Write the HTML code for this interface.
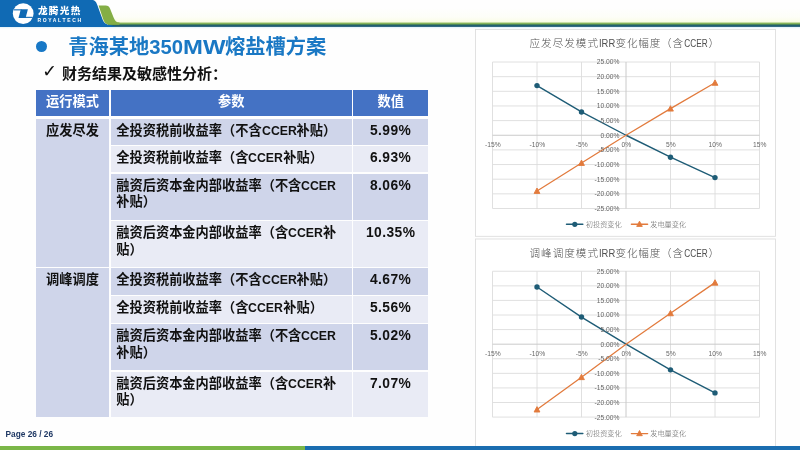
<!DOCTYPE html>
<html lang="zh-CN">
<head>
<meta charset="utf-8">
<title>青海某地350MW熔盐槽方案</title>
<style>
html,body{margin:0;padding:0;}
html{background:#fefefe;}
body{width:800px;height:450px;overflow:hidden;background:#fefefe;position:relative;filter:blur(0.45px);
  font-family:"Liberation Sans","Noto Sans CJK SC",sans-serif;}
.abs{position:absolute;}
#hdr{left:0;top:0;width:800px;height:30px;}
#brand{left:37.9px;top:5.1px;color:#fff;font-family:"Liberation Sans","Noto Sans CJK SC",sans-serif;
  font-weight:900;font-size:9.6px;line-height:12px;white-space:nowrap;letter-spacing:1.35px;}
#brand2{left:37.4px;top:16.6px;color:#fff;font-weight:bold;font-size:5px;line-height:6px;
  letter-spacing:1.68px;white-space:nowrap;}
#bullet{left:36px;top:40.5px;width:11px;height:11px;border-radius:50%;background:#1878c6;}
#title{left:68.2px;top:32px;font-size:20.25px;line-height:30px;font-weight:bold;color:#1a78c4;white-space:nowrap;}
#title .en{letter-spacing:0px;}
#title .mw{display:inline-block;transform:scaleX(1.18);transform-origin:0 50%;margin:0 6.4px 0 -0.5px;}
#chk{left:42.2px;top:61.4px;font-size:17.5px;line-height:20px;color:#111;font-family:"DejaVu Sans",sans-serif;}
#sub{left:62.1px;top:63.8px;font-size:15px;line-height:20px;font-weight:bold;color:#111;white-space:nowrap;}
/* table */
.c{position:absolute;box-sizing:border-box;font-weight:bold;font-size:13.22px;line-height:16.7px;color:#111;}
.e{display:inline-block;transform:scaleX(.93);transform-origin:0 50%;margin-right:-2.6px;}
.h{background:#4472c4;color:#fff;text-align:center;padding-top:4.1px;}
.d{background:#cfd5ea;}
.l{background:#e9ebf5;}
.p{padding:4.1px 0 0 5.6px;}
.v{text-align:center;padding-top:4.2px;font-size:13.8px;letter-spacing:.45px;}
.m{text-align:center;padding-top:4.1px;}
#pg{left:5.5px;top:427.8px;font-size:8.3px;line-height:12px;font-weight:bold;color:#1f3864;white-space:nowrap;}
#fg{left:0;top:446px;width:305px;height:4px;background:#7ab648;}
#fb{left:305px;top:446px;width:495px;height:4px;background:#1a6db0;}
svg text{font-family:"Liberation Sans","Noto Sans CJK SC",sans-serif;}
</style>
</head>
<body>
<!-- header -->
<svg id="hdr" class="abs" viewBox="0 0 800 30" width="800" height="30">
  <defs><linearGradient id="lg" x1="0" y1="0" x2="0" y2="1">
    <stop offset="0" stop-color="#a9cc7c"/><stop offset="0.28" stop-color="#80b055"/><stop offset="0.45" stop-color="#4f8a58"/><stop offset="0.6" stop-color="#23616c"/><stop offset="1" stop-color="#1d5979"/>
  </linearGradient>
  <linearGradient id="cg" x1="0" y1="0" x2="0" y2="1"><stop offset="0" stop-color="#fbfde8" stop-opacity="0"/><stop offset="0.6" stop-color="#fbfde8" stop-opacity="0.3"/><stop offset="1" stop-color="#f6fbd6" stop-opacity="0.75"/></linearGradient>
  <linearGradient id="hg" x1="0" y1="0" x2="0" y2="1"><stop offset="0" stop-color="#d8edf7" stop-opacity="1"/><stop offset="1" stop-color="#e8f4fa" stop-opacity="0"/></linearGradient></defs>
  <rect x="100" y="8" width="700" height="14.6" fill="url(#cg)"/>
  <rect x="0" y="26.8" width="800" height="2.2" fill="url(#hg)"/>
  <rect x="108" y="22.4" width="692" height="4.5" fill="url(#lg)"/>
  <path d="M0,0 L91.5,0 C95,0 96.3,2 97.3,5 L102.3,18.7 C103.6,22.2 105.5,24.6 110,24.8 L116,26.9 L0,26.9 Z" fill="#106ab4"/>
  <path d="M98.6,5.6 L105.5,5.6 C108,5.6 109.3,6.8 110,8.6 L113.6,17.6 C114.8,20.6 116.3,22.6 119.5,22.6 L119.5,24.7 L110,24.7 C105.8,24.7 104.3,22.4 103,18.7 Z" fill="#84ae45"/>
  <circle cx="23.2" cy="13.6" r="10.4" fill="#fff"/>
  <path d="M20.8,9.3 L27.9,9.3 L25.6,17.9 L18.5,17.9 Z" fill="#106ab4"/>
  <rect x="13.6" y="9.3" width="8" height="1.1" fill="#106ab4"/>
  <rect x="25" y="16.8" width="7.8" height="1.1" fill="#106ab4"/>
</svg>
<div id="brand" class="abs">龙腾光热</div>
<div id="brand2" class="abs">ROYALTECH</div>

<!-- title -->
<div id="bullet" class="abs"></div>
<div id="title" class="abs">青海某地<span class="en">350</span><span class="mw">MW</span>熔盐槽方案</div>
<div id="chk" class="abs">✓</div>
<div id="sub" class="abs">财务结果及敏感性分析：</div>

<!-- table -->
<div class="c h" style="left:36px;top:90.3px;width:73px;height:25.4px;">运行模式</div>
<div class="c h" style="left:110.7px;top:90.3px;width:241.3px;height:25.4px;">参数</div>
<div class="c h" style="left:353.3px;top:90.3px;width:74.7px;height:25.4px;">数值</div>

<div class="c d m" style="left:36px;top:118.8px;width:73px;height:148.3px;">应发尽发</div>
<div class="c d m" style="left:36px;top:268.3px;width:73px;height:149.2px;">调峰调度</div>

<div class="c d p" style="left:110.7px;top:118.8px;width:241.3px;height:25.9px;">全投资税前收益率（不含<span class="e">CCER</span>补贴）</div>
<div class="c l p" style="left:110.7px;top:145.9px;width:241.3px;height:26.4px;">全投资税前收益率（含<span class="e">CCER</span>补贴）</div>
<div class="c d p" style="left:110.7px;top:173.5px;width:241.3px;height:46.2px;">融资后资本金内部收益率（不含<span class="e">CCER</span><br>补贴）</div>
<div class="c l p" style="left:110.7px;top:220.9px;width:241.3px;height:46.2px;">融资后资本金内部收益率（含<span class="e">CCER</span>补<br>贴）</div>
<div class="c d p" style="left:110.7px;top:268.3px;width:241.3px;height:26.8px;">全投资税前收益率（不含<span class="e">CCER</span>补贴）</div>
<div class="c l p" style="left:110.7px;top:296.3px;width:241.3px;height:26.8px;">全投资税前收益率（含<span class="e">CCER</span>补贴）</div>
<div class="c d p" style="left:110.7px;top:324.3px;width:241.3px;height:46.1px;">融资后资本金内部收益率（不含<span class="e">CCER</span><br>补贴）</div>
<div class="c l p" style="left:110.7px;top:371.6px;width:241.3px;height:45.9px;">融资后资本金内部收益率（含<span class="e">CCER</span>补<br>贴）</div>

<div class="c d v" style="left:353.3px;top:118.8px;width:74.7px;height:25.9px;">5.99%</div>
<div class="c l v" style="left:353.3px;top:145.9px;width:74.7px;height:26.4px;">6.93%</div>
<div class="c d v" style="left:353.3px;top:173.5px;width:74.7px;height:46.2px;">8.06%</div>
<div class="c l v" style="left:353.3px;top:220.9px;width:74.7px;height:46.2px;">10.35%</div>
<div class="c d v" style="left:353.3px;top:268.3px;width:74.7px;height:26.8px;">4.67%</div>
<div class="c l v" style="left:353.3px;top:296.3px;width:74.7px;height:26.8px;">5.56%</div>
<div class="c d v" style="left:353.3px;top:324.3px;width:74.7px;height:46.1px;">5.02%</div>
<div class="c l v" style="left:353.3px;top:371.6px;width:74.7px;height:45.9px;">7.07%</div>

<div id="pg" class="abs">Page 26 / 26</div>

<!-- CHARTS-BEGIN -->
<svg class="abs" style="left:0;top:0" width="800" height="450" viewBox="0 0 800 450">
<g>
<rect x="475.5" y="29.5" width="300.0" height="206.8" fill="#fff" stroke="#dcdcdc" stroke-width="0.85"/>
<line x1="492.5" x2="759.5" y1="208.50" y2="208.50" stroke="#dcdcdc" stroke-width="0.9"/>
<line x1="492.5" x2="759.5" y1="193.85" y2="193.85" stroke="#dcdcdc" stroke-width="0.9"/>
<line x1="492.5" x2="759.5" y1="179.20" y2="179.20" stroke="#dcdcdc" stroke-width="0.9"/>
<line x1="492.5" x2="759.5" y1="164.55" y2="164.55" stroke="#dcdcdc" stroke-width="0.9"/>
<line x1="492.5" x2="759.5" y1="149.90" y2="149.90" stroke="#dcdcdc" stroke-width="0.9"/>
<line x1="492.5" x2="759.5" y1="120.60" y2="120.60" stroke="#dcdcdc" stroke-width="0.9"/>
<line x1="492.5" x2="759.5" y1="105.95" y2="105.95" stroke="#dcdcdc" stroke-width="0.9"/>
<line x1="492.5" x2="759.5" y1="91.30" y2="91.30" stroke="#dcdcdc" stroke-width="0.9"/>
<line x1="492.5" x2="759.5" y1="76.65" y2="76.65" stroke="#dcdcdc" stroke-width="0.9"/>
<line x1="492.5" x2="759.5" y1="62.00" y2="62.00" stroke="#dcdcdc" stroke-width="0.9"/>
<line y1="62" y2="208.5" x1="492.50" x2="492.50" stroke="#dcdcdc" stroke-width="0.9"/>
<line y1="62" y2="208.5" x1="537.00" x2="537.00" stroke="#dcdcdc" stroke-width="0.9"/>
<line y1="62" y2="208.5" x1="581.50" x2="581.50" stroke="#dcdcdc" stroke-width="0.9"/>
<line y1="62" y2="208.5" x1="670.50" x2="670.50" stroke="#dcdcdc" stroke-width="0.9"/>
<line y1="62" y2="208.5" x1="715.00" x2="715.00" stroke="#dcdcdc" stroke-width="0.9"/>
<line y1="62" y2="208.5" x1="759.50" x2="759.50" stroke="#dcdcdc" stroke-width="0.9"/>
<line x1="492.5" x2="759.5" y1="135.25" y2="135.25" stroke="#cacaca" stroke-width="1"/>
<line y1="62" y2="208.5" x1="626.00" x2="626.00" stroke="#cacaca" stroke-width="1"/>
<text x="529.5" y="47.4" font-size="10.6" font-weight="300" fill="#505050" letter-spacing="1">应发尽发模式</text>
<text x="599" y="47.4" font-size="10.6" font-weight="300" fill="#505050" textLength="16.2" lengthAdjust="spacingAndGlyphs">IRR</text>
<text x="615.5" y="47.4" font-size="10.6" font-weight="300" fill="#505050" letter-spacing="0.8">变化幅度（含</text>
<text x="684.3" y="47.4" font-size="10.6" font-weight="300" fill="#505050" textLength="23.4" lengthAdjust="spacingAndGlyphs">CCER</text>
<text x="708.6" y="47.4" font-size="10.6" font-weight="300" fill="#505050">）</text>
<polyline points="537.00,85.59 581.50,111.96 626.00,135.25 670.50,157.22 715.00,177.59" fill="none" stroke="#1e5c76" stroke-width="1.4" stroke-linejoin="round" stroke-linecap="round"/>
<polyline points="537.00,190.92 581.50,162.94 626.00,135.25 670.50,108.59 715.00,82.80" fill="none" stroke="#e27a3c" stroke-width="1.25" stroke-linejoin="round" stroke-linecap="round"/>
<circle cx="537.00" cy="85.59" r="2.7" fill="#1e5c76"/>
<circle cx="581.50" cy="111.96" r="2.7" fill="#1e5c76"/>
<circle cx="670.50" cy="157.22" r="2.7" fill="#1e5c76"/>
<circle cx="715.00" cy="177.59" r="2.7" fill="#1e5c76"/>
<path d="M537.00,188.02 L539.90,193.42 L534.10,193.42 Z" fill="#e27a3c" stroke="#e27a3c" stroke-width="0.9" stroke-linejoin="round"/>
<path d="M581.50,160.04 L584.40,165.44 L578.60,165.44 Z" fill="#e27a3c" stroke="#e27a3c" stroke-width="0.9" stroke-linejoin="round"/>
<path d="M670.50,105.69 L673.40,111.09 L667.60,111.09 Z" fill="#e27a3c" stroke="#e27a3c" stroke-width="0.9" stroke-linejoin="round"/>
<path d="M715.00,79.90 L717.90,85.30 L712.10,85.30 Z" fill="#e27a3c" stroke="#e27a3c" stroke-width="0.9" stroke-linejoin="round"/>
<text x="619.4" y="210.90" font-size="6.7" fill="#666" text-anchor="end">-25.00%</text>
<text x="619.4" y="196.25" font-size="6.7" fill="#666" text-anchor="end">-20.00%</text>
<text x="619.4" y="181.60" font-size="6.7" fill="#666" text-anchor="end">-15.00%</text>
<text x="619.4" y="166.95" font-size="6.7" fill="#666" text-anchor="end">-10.00%</text>
<text x="619.4" y="152.30" font-size="6.7" fill="#666" text-anchor="end">-5.00%</text>
<text x="619.4" y="137.65" font-size="6.7" fill="#666" text-anchor="end">0.00%</text>
<text x="619.4" y="123.00" font-size="6.7" fill="#666" text-anchor="end">5.00%</text>
<text x="619.4" y="108.35" font-size="6.7" fill="#666" text-anchor="end">10.00%</text>
<text x="619.4" y="93.70" font-size="6.7" fill="#666" text-anchor="end">15.00%</text>
<text x="619.4" y="79.05" font-size="6.7" fill="#666" text-anchor="end">20.00%</text>
<text x="619.4" y="64.40" font-size="6.7" fill="#666" text-anchor="end">25.00%</text>
<text x="492.80" y="147.45" font-size="6.7" fill="#666" text-anchor="middle">-15%</text>
<text x="537.30" y="147.45" font-size="6.7" fill="#666" text-anchor="middle">-10%</text>
<text x="581.80" y="147.45" font-size="6.7" fill="#666" text-anchor="middle">-5%</text>
<text x="626.30" y="147.45" font-size="6.7" fill="#666" text-anchor="middle">0%</text>
<text x="670.80" y="147.45" font-size="6.7" fill="#666" text-anchor="middle">5%</text>
<text x="715.30" y="147.45" font-size="6.7" fill="#666" text-anchor="middle">10%</text>
<text x="759.80" y="147.45" font-size="6.7" fill="#666" text-anchor="middle">15%</text>
<line x1="566.5" x2="582.8" y1="224.3" y2="224.3" stroke="#1e5c76" stroke-width="1.5" stroke-linecap="round"/>
<circle cx="574.8" cy="224.3" r="2.6" fill="#1e5c76"/>
<text x="585.8" y="226.90" font-size="7.2" font-weight="300" fill="#5c5c5c">初投资变化</text>
<line x1="631.4" x2="647.6" y1="224.3" y2="224.3" stroke="#e27a3c" stroke-width="1.4" stroke-linecap="round"/>
<path d="M639.50,221.20 L642.30,226.40 L636.70,226.40 Z" fill="#e27a3c" stroke="#e27a3c" stroke-width="0.9" stroke-linejoin="round"/>
<text x="650.2" y="226.90" font-size="7.2" font-weight="300" fill="#5c5c5c">发电量变化</text>
</g>
<g>
<rect x="475.5" y="239" width="300.0" height="212" fill="#fff" stroke="#dcdcdc" stroke-width="0.85"/>
<line x1="492.5" x2="759.5" y1="417.10" y2="417.10" stroke="#dcdcdc" stroke-width="0.9"/>
<line x1="492.5" x2="759.5" y1="402.51" y2="402.51" stroke="#dcdcdc" stroke-width="0.9"/>
<line x1="492.5" x2="759.5" y1="387.93" y2="387.93" stroke="#dcdcdc" stroke-width="0.9"/>
<line x1="492.5" x2="759.5" y1="373.35" y2="373.35" stroke="#dcdcdc" stroke-width="0.9"/>
<line x1="492.5" x2="759.5" y1="358.76" y2="358.76" stroke="#dcdcdc" stroke-width="0.9"/>
<line x1="492.5" x2="759.5" y1="329.59" y2="329.59" stroke="#dcdcdc" stroke-width="0.9"/>
<line x1="492.5" x2="759.5" y1="315.00" y2="315.00" stroke="#dcdcdc" stroke-width="0.9"/>
<line x1="492.5" x2="759.5" y1="300.42" y2="300.42" stroke="#dcdcdc" stroke-width="0.9"/>
<line x1="492.5" x2="759.5" y1="285.84" y2="285.84" stroke="#dcdcdc" stroke-width="0.9"/>
<line x1="492.5" x2="759.5" y1="271.25" y2="271.25" stroke="#dcdcdc" stroke-width="0.9"/>
<line y1="271.25" y2="417.1" x1="492.50" x2="492.50" stroke="#dcdcdc" stroke-width="0.9"/>
<line y1="271.25" y2="417.1" x1="537.00" x2="537.00" stroke="#dcdcdc" stroke-width="0.9"/>
<line y1="271.25" y2="417.1" x1="581.50" x2="581.50" stroke="#dcdcdc" stroke-width="0.9"/>
<line y1="271.25" y2="417.1" x1="670.50" x2="670.50" stroke="#dcdcdc" stroke-width="0.9"/>
<line y1="271.25" y2="417.1" x1="715.00" x2="715.00" stroke="#dcdcdc" stroke-width="0.9"/>
<line y1="271.25" y2="417.1" x1="759.50" x2="759.50" stroke="#dcdcdc" stroke-width="0.9"/>
<line x1="492.5" x2="759.5" y1="344.18" y2="344.18" stroke="#cacaca" stroke-width="1"/>
<line y1="271.25" y2="417.1" x1="626.00" x2="626.00" stroke="#cacaca" stroke-width="1"/>
<text x="529.5" y="256.9" font-size="10.6" font-weight="300" fill="#505050" letter-spacing="1">调峰调度模式</text>
<text x="599" y="256.9" font-size="10.6" font-weight="300" fill="#505050" textLength="16.2" lengthAdjust="spacingAndGlyphs">IRR</text>
<text x="615.5" y="256.9" font-size="10.6" font-weight="300" fill="#505050" letter-spacing="0.8">变化幅度（含</text>
<text x="684.3" y="256.9" font-size="10.6" font-weight="300" fill="#505050" textLength="23.4" lengthAdjust="spacingAndGlyphs">CCER</text>
<text x="708.6" y="256.9" font-size="10.6" font-weight="300" fill="#505050">）</text>
<polyline points="537.00,287.00 581.50,317.05 626.00,344.18 670.50,369.84 715.00,392.89" fill="none" stroke="#1e5c76" stroke-width="1.4" stroke-linejoin="round" stroke-linecap="round"/>
<polyline points="537.00,409.52 581.50,377.14 626.00,344.18 670.50,313.25 715.00,282.63" fill="none" stroke="#e27a3c" stroke-width="1.25" stroke-linejoin="round" stroke-linecap="round"/>
<circle cx="537.00" cy="287.00" r="2.7" fill="#1e5c76"/>
<circle cx="581.50" cy="317.05" r="2.7" fill="#1e5c76"/>
<circle cx="670.50" cy="369.84" r="2.7" fill="#1e5c76"/>
<circle cx="715.00" cy="392.89" r="2.7" fill="#1e5c76"/>
<path d="M537.00,406.62 L539.90,412.02 L534.10,412.02 Z" fill="#e27a3c" stroke="#e27a3c" stroke-width="0.9" stroke-linejoin="round"/>
<path d="M581.50,374.24 L584.40,379.64 L578.60,379.64 Z" fill="#e27a3c" stroke="#e27a3c" stroke-width="0.9" stroke-linejoin="round"/>
<path d="M670.50,310.35 L673.40,315.75 L667.60,315.75 Z" fill="#e27a3c" stroke="#e27a3c" stroke-width="0.9" stroke-linejoin="round"/>
<path d="M715.00,279.73 L717.90,285.13 L712.10,285.13 Z" fill="#e27a3c" stroke="#e27a3c" stroke-width="0.9" stroke-linejoin="round"/>
<text x="619.4" y="419.50" font-size="6.7" fill="#666" text-anchor="end">-25.00%</text>
<text x="619.4" y="404.91" font-size="6.7" fill="#666" text-anchor="end">-20.00%</text>
<text x="619.4" y="390.33" font-size="6.7" fill="#666" text-anchor="end">-15.00%</text>
<text x="619.4" y="375.75" font-size="6.7" fill="#666" text-anchor="end">-10.00%</text>
<text x="619.4" y="361.16" font-size="6.7" fill="#666" text-anchor="end">-5.00%</text>
<text x="619.4" y="346.57" font-size="6.7" fill="#666" text-anchor="end">0.00%</text>
<text x="619.4" y="331.99" font-size="6.7" fill="#666" text-anchor="end">5.00%</text>
<text x="619.4" y="317.40" font-size="6.7" fill="#666" text-anchor="end">10.00%</text>
<text x="619.4" y="302.82" font-size="6.7" fill="#666" text-anchor="end">15.00%</text>
<text x="619.4" y="288.24" font-size="6.7" fill="#666" text-anchor="end">20.00%</text>
<text x="619.4" y="273.65" font-size="6.7" fill="#666" text-anchor="end">25.00%</text>
<text x="492.80" y="356.38" font-size="6.7" fill="#666" text-anchor="middle">-15%</text>
<text x="537.30" y="356.38" font-size="6.7" fill="#666" text-anchor="middle">-10%</text>
<text x="581.80" y="356.38" font-size="6.7" fill="#666" text-anchor="middle">-5%</text>
<text x="626.30" y="356.38" font-size="6.7" fill="#666" text-anchor="middle">0%</text>
<text x="670.80" y="356.38" font-size="6.7" fill="#666" text-anchor="middle">5%</text>
<text x="715.30" y="356.38" font-size="6.7" fill="#666" text-anchor="middle">10%</text>
<text x="759.80" y="356.38" font-size="6.7" fill="#666" text-anchor="middle">15%</text>
<line x1="566.5" x2="582.8" y1="433.6" y2="433.6" stroke="#1e5c76" stroke-width="1.5" stroke-linecap="round"/>
<circle cx="574.8" cy="433.6" r="2.6" fill="#1e5c76"/>
<text x="585.8" y="436.20" font-size="7.2" font-weight="300" fill="#5c5c5c">初投资变化</text>
<line x1="631.4" x2="647.6" y1="433.6" y2="433.6" stroke="#e27a3c" stroke-width="1.4" stroke-linecap="round"/>
<path d="M639.50,430.50 L642.30,435.70 L636.70,435.70 Z" fill="#e27a3c" stroke="#e27a3c" stroke-width="0.9" stroke-linejoin="round"/>
<text x="650.2" y="436.20" font-size="7.2" font-weight="300" fill="#5c5c5c">发电量变化</text>
</g>
</svg>
<!-- CHARTS-END -->

<div id="fg" class="abs"></div>
<div id="fb" class="abs"></div>
</body>
</html>
